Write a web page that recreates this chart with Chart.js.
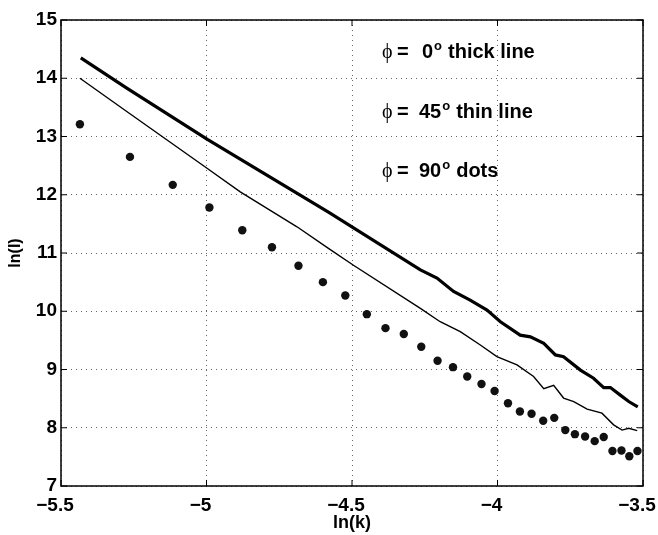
<!DOCTYPE html>
<html>
<head>
<meta charset="utf-8">
<script src="https://cdn.jsdelivr.net/npm/chart.js@4/dist/chart.umd.min.js"></script>
<style>
  html, body { margin: 0; padding: 0; background: #fff; }
  #wrap { width: 658px; height: 535px; }
</style>
</head>
<body>
<div id="wrap"><canvas id="lnChart" width="658" height="535"></canvas></div>
<script>
// ln(I) vs ln(k) for three angles
const xTicks = [-5.5, -5, -4.5, -4, -3.5];
const yTicks = [7, 8, 9, 10, 11, 12, 13, 14, 15];

// phi = 0 deg, thick line
const thickX = [-5.432, -5.274, -4.997, -4.581, -4.265, -4.208, -4.151, -4.094, -4.036, -3.990, -3.922,
  -3.887, -3.841, -3.801, -3.773, -3.715, -3.670, -3.635, -3.612, -3.578, -3.549, -3.518];
const thickY = [14.35, 13.83, 12.95, 11.70, 10.71, 10.57, 10.34, 10.19, 10.02, 9.82, 9.59,
  9.56, 9.45, 9.25, 9.22, 8.99, 8.85, 8.69, 8.69, 8.56, 8.45, 8.36];

// phi = 45 deg, thin line
const thinX = [-5.435, -5.274, -4.997, -4.884, -4.689, -4.581, -4.495, -4.265, -4.197, -4.128, -4.059,
  -4.002, -3.933, -3.876, -3.841, -3.807, -3.773, -3.738, -3.692, -3.641, -3.601, -3.572, -3.549, -3.520];
const thinY = [14.0, 13.43, 12.45, 12.05, 11.45, 11.08, 10.79, 10.05, 9.82, 9.65, 9.42,
  9.22, 9.08, 8.88, 8.67, 8.73, 8.51, 8.45, 8.32, 8.25, 8.05, 7.96, 7.99, 7.95];

// phi = 90 deg, dots
const dotX = [-5.435, -5.263, -5.116, -4.990, -4.877, -4.775, -4.684, -4.600, -4.523, -4.449, -4.385,
  -4.322, -4.262, -4.206, -4.153, -4.104, -4.055, -4.010, -3.964, -3.923, -3.883, -3.843, -3.805,
  -3.767, -3.734, -3.699, -3.666, -3.635, -3.605, -3.574, -3.547, -3.519];
const dotY = [13.21, 12.65, 12.17, 11.78, 11.39, 11.10, 10.78, 10.50, 10.27, 9.95, 9.71,
  9.61, 9.39, 9.15, 9.04, 8.88, 8.75, 8.63, 8.42, 8.28, 8.24, 8.12, 8.17,
  7.96, 7.89, 7.85, 7.77, 7.84, 7.60, 7.61, 7.51, 7.60];

const notes = [
  { num: '0', rest: 'thick line', y: 14.34 },
  { num: '45', rest: 'thin line', y: 13.31 },
  { num: '90', rest: 'dots', y: 12.31 }
];

const pts = (xs, ys) => xs.map((x, i) => ({ x: x, y: ys[i] }));
const fmt = v => String(v).replace('-', '\u2212');

const frame = {
  id: 'frame',
  afterDraw(chart) {
    const c = chart.ctx, a = chart.chartArea;
    const sx = chart.scales.x, sy = chart.scales.y;
    c.save();
    c.strokeStyle = '#000';
    c.lineWidth = 1.5;
    c.strokeRect(a.left, a.top, a.right - a.left, a.bottom - a.top);
    c.lineWidth = 1;
    c.beginPath();
    xTicks.forEach(v => {
      const p = sx.getPixelForValue(v);
      c.moveTo(p, a.bottom); c.lineTo(p, a.bottom - 6);
      c.moveTo(p, a.top); c.lineTo(p, a.top + 6);
    });
    yTicks.forEach(v => {
      const p = sy.getPixelForValue(v);
      c.moveTo(a.left, p); c.lineTo(a.left + 6, p);
      c.moveTo(a.right, p); c.lineTo(a.right - 6, p);
    });
    c.stroke();

    // annotations
    c.fillStyle = '#000';
    c.textBaseline = 'alphabetic';
    const x0 = sx.getPixelForValue(-4.397);
    notes.forEach(n => {
      const yb = sy.getPixelForValue(n.y);
      c.font = '20px "Liberation Serif"';
      c.fillText('\u03d5', x0, yb);
      c.font = 'bold 20px "Liberation Sans"';
      c.fillText('=', x0 + 15, yb);
      let x = n.num.length === 1 ? x0 + 40 : x0 + 37;
      c.fillText(n.num, x, yb);
      x += c.measureText(n.num).width + 1;
      c.font = 'bold 13px "Liberation Sans"';
      c.fillText('o', x, yb - 8);
      x += c.measureText('o').width + 6;
      c.font = 'bold 20px "Liberation Sans"';
      c.fillText(n.rest, x, yb);
    });
    c.restore();
  }
};

const ctx = document.getElementById('lnChart').getContext('2d');
const lnChart = new Chart(ctx, {
  type: 'scatter',
  data: {
    datasets: [
      {
        label: 'phi = 0 thick line',
        data: pts(thickX, thickY),
        showLine: true,
        borderColor: '#000',
        borderWidth: 3.2,
        pointRadius: 0,
        fill: false
      },
      {
        label: 'phi = 45 thin line',
        data: pts(thinX, thinY),
        showLine: true,
        borderColor: '#000',
        borderWidth: 1.4,
        pointRadius: 0,
        fill: false
      },
      {
        label: 'phi = 90 dots',
        data: pts(dotX, dotY),
        showLine: false,
        backgroundColor: '#111',
        borderColor: '#000',
        borderWidth: 0,
        pointRadius: 4.2
      }
    ]
  },
  options: {
    responsive: false,
    animation: false,
    layout: { padding: { top: 20, right: 15, left: 0, bottom: 0 } },
    plugins: { legend: { display: false }, tooltip: { enabled: false } },
    scales: {
      x: {
        type: 'linear',
        min: -5.5,
        max: -3.5,
        afterBuildTicks: s => { s.ticks = xTicks.map(v => ({ value: v })); },
        afterFit: s => { s.height = 49; s.paddingLeft = 0; s.paddingRight = 0; },
        grid: { color: '#666', drawTicks: false, lineWidth: 1 },
        border: { display: false, dash: [1, 4] },
        ticks: {
          color: '#000',
          padding: 8,
          labelOffset: -6,
          maxRotation: 0,
          font: { family: 'Liberation Sans', size: 19, weight: 'bold' },
          callback: v => fmt(v)
        },
        title: {
          display: true,
          text: 'ln(k)',
          color: '#000',
          padding: { top: 0, bottom: 1 },
          font: { family: 'Liberation Sans', size: 18, weight: 'bold' }
        }
      },
      y: {
        type: 'linear',
        min: 7,
        max: 15,
        afterBuildTicks: s => { s.ticks = yTicks.map(v => ({ value: v })); },
        afterFit: s => { s.width = 61; },
        grid: { color: '#666', drawTicks: false, lineWidth: 1 },
        border: { display: false, dash: [1, 4] },
        ticks: {
          color: '#000',
          padding: 4,
          font: { family: 'Liberation Sans', size: 19, weight: 'bold' },
          callback: v => fmt(v)
        },
        title: {
          display: true,
          text: 'ln(I)',
          color: '#000',
          padding: { top: 6, bottom: 0 },
          font: { family: 'Liberation Sans', size: 16, weight: 'bold' }
        }
      }
    }
  },
  plugins: [frame]
});
</script>
</body>
</html>
